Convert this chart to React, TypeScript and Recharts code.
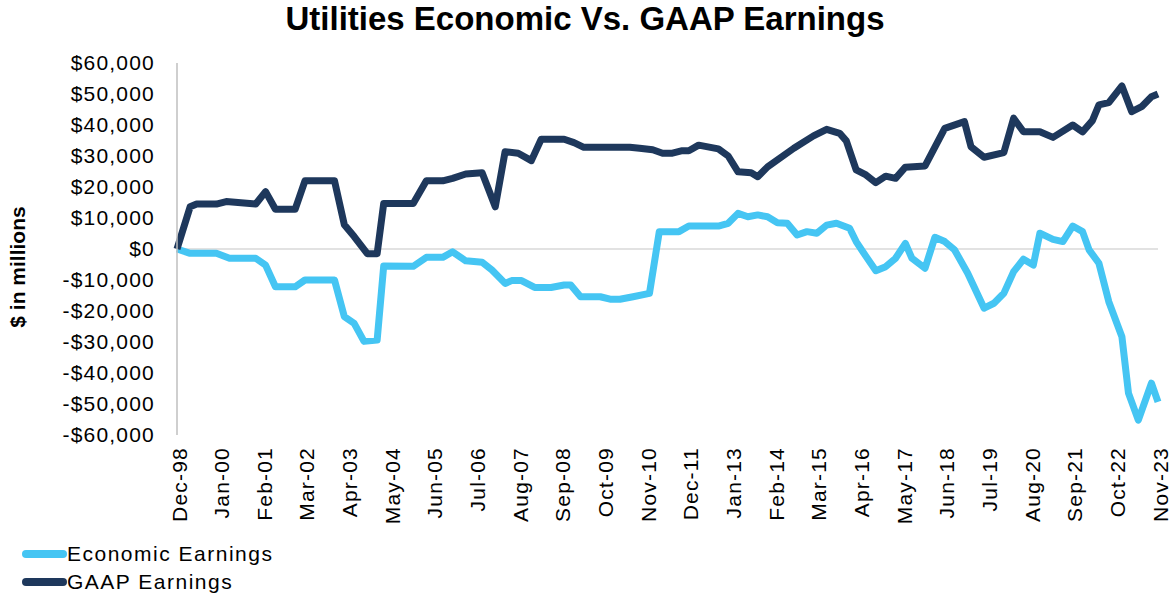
import { LineChart, Line, XAxis, YAxis, ReferenceLine } from "recharts";

// month index counted from Dec-98 (0) to Nov-23 (299)
const tickLabels = [
  "Dec-98", "Jan-00", "Feb-01", "Mar-02", "Apr-03", "May-04", "Jun-05", "Jul-06",
  "Aug-07", "Sep-08", "Oct-09", "Nov-10", "Dec-11", "Jan-13", "Feb-14", "Mar-15",
  "Apr-16", "May-17", "Jun-18", "Jul-19", "Aug-20", "Sep-21", "Oct-22", "Nov-23",
];
const tickMonths = tickLabels.map((_, i) => i * 13);

const yTicks = [-60000, -50000, -40000, -30000, -20000, -10000, 0, 10000, 20000, 30000, 40000, 50000, 60000];

const econMonths = [
  0, 4, 12, 16, 24, 27, 30, 36, 39, 48, 51, 54, 57, 61, 63, 72, 76, 81, 84, 88,
  93, 96, 100, 102, 105, 109, 114, 118, 120, 123, 129, 132, 135, 139, 144, 147, 153, 156, 165, 168,
  171, 174, 177, 180, 183, 186, 189, 192, 195, 198, 201, 205, 207, 210, 213, 216, 219, 222, 224, 228,
  231, 234, 237, 241, 246, 249, 252, 255, 258, 261, 263, 267, 270, 273, 276, 278, 281, 284, 288, 290,
  293, 297, 299,
];
const econValues = [
  0, -1400, -1400, -3000, -3000, -5200, -12200, -12200, -10000, -10000, -21800, -24000, -29800, -29400, -5500, -5600, -2700, -2700, -900, -3800,
  -4300, -6800, -11100, -10200, -10200, -12400, -12400, -11600, -11600, -15400, -15400, -16200, -16200, -15400, -14300, 5600, 5600, 7400, 7400, 8300,
  11500, 10400, 11000, 10400, 8500, 8300, 4500, 5600, 5100, 7700, 8300, 6700, 2400, -2400, -7000, -5700, -3000, 1800, -3000, -6200,
  3800, 2400, -300, -7800, -19100, -17500, -14300, -7300, -3300, -5200, 5100, 3100, 2400, 7400, 5600, -300, -4600, -17000, -28300, -46500,
  -55200, -43300, -49300,
];

const gaapMonths = [
  0, 4, 6, 12, 15, 24, 27, 30, 36, 39, 48, 51, 54, 58, 61, 63, 72, 76, 81, 84,
  88, 93, 97, 100, 104, 108, 111, 118, 121, 124, 138, 141, 145, 148, 151, 154, 156, 159, 165, 168,
  171, 175, 177, 180, 188, 194, 198, 202, 204, 207, 210, 213, 216, 219, 222, 228, 234, 240, 242, 246,
  252, 255, 258, 263, 267, 273, 276, 279, 281, 284, 288, 291, 294, 297, 299,
];
const gaapValues = [
  0, 13600, 14500, 14500, 15300, 14500, 18500, 12800, 12800, 22000, 22000, 7800, 4000, -1500, -1500, 14700, 14700, 22000, 22000, 22800,
  24200, 24600, 13600, 31400, 30900, 28500, 35400, 35400, 34300, 32800, 32800, 32500, 32000, 30900, 30900, 31700, 31700, 33500, 32300, 30000,
  24900, 24600, 23300, 26500, 32500, 36500, 38600, 37300, 34900, 25500, 23900, 21400, 23500, 22800, 26400, 26800, 38900, 41100, 33000, 29600,
  31100, 42200, 37800, 37800, 36000, 40000, 37800, 41400, 46500, 47200, 52600, 44300, 45900, 49100, 50000,
];

const econData = econMonths.map((m, i) => ({ month: m, value: econValues[i] }));
const gaapData = gaapMonths.map((m, i) => ({ month: m, value: gaapValues[i] }));

const LIGHT = "#45C5F3";
const DARK = "#1E385C";
const FONT = "'Liberation Sans', Arial, sans-serif";

const fmtDollar = (v: number) =>
  (v < 0 ? "-$" : "$") + Math.abs(v).toLocaleString("en-US");

const XTick = (props: any) => {
  const { x, y, payload } = props;
  const idx = tickMonths.indexOf(payload.value);
  return (
    <text
      transform={`translate(${x + 2},${y + 4}) rotate(-90)`}
      textAnchor="end"
      dominantBaseline="central"
      fontSize={21}
      fontFamily={FONT}
      letterSpacing={1.2}
      fill="#000"
    >
      {tickLabels[idx]}
    </text>
  );
};

export default function App() {
  return (
    <div style={{ position: "absolute", left: 0, top: 0, width: 1170, height: 598, background: "#fff", fontFamily: FONT }}>
      <div
        style={{
          position: "absolute",
          top: 0,
          left: 0,
          width: 1170,
          textAlign: "center",
          fontSize: 33,
          fontWeight: "bold",
          color: "#000",
        }}
      >
        Utilities Economic Vs. GAAP Earnings
      </div>
      <LineChart
        width={1170}
        height={598}
        margin={{ top: 63, right: 12, bottom: 63, left: 0 }}
      >
        <XAxis
          dataKey="month"
          type="number"
          domain={[0, 299]}
          ticks={tickMonths}
          interval={0}
          axisLine={false}
          tickLine={false}
          height={100}
          tick={<XTick />}
        />
        <YAxis
          dataKey="value"
          type="number"
          domain={[-60000, 60000]}
          ticks={yTicks}
          interval={0}
          width={177}
          axisLine={{ stroke: "#bfbfbf", strokeWidth: 1.5 }}
          tickLine={false}
          tickFormatter={fmtDollar}
          tick={{ fontSize: 21, fill: "#000", fontFamily: FONT, letterSpacing: 1.2 }}
          tickMargin={16}
          label={{
            content: () => (
              <text
                x={17}
                y={267}
                transform="rotate(-90 17 267)"
                textAnchor="middle"
                dominantBaseline="central"
                fontSize={21}
                fontWeight="bold"
                fontFamily={FONT}
                fill="#000"
              >
                $ in millions
              </text>
            ),
          }}
        />
        <ReferenceLine y={0} stroke="#d9d9d9" strokeWidth={1.5} />
        <Line
          data={econData}
          dataKey="value"
          name="Economic Earnings"
          stroke={LIGHT}
          strokeWidth={7}
          dot={false}
          strokeLinejoin="round"
          isAnimationActive={false}
        />
        <Line
          data={gaapData}
          dataKey="value"
          name="GAAP Earnings"
          stroke={DARK}
          strokeWidth={7}
          dot={false}
          strokeLinejoin="round"
          isAnimationActive={false}
        />
      </LineChart>
      {[
        { label: "Economic Earnings", color: LIGHT, top: 541 },
        { label: "GAAP Earnings", color: DARK, top: 569 },
      ].map((item) => (
        <div
          key={item.label}
          style={{ position: "absolute", left: 22, top: item.top, display: "flex", alignItems: "center", height: 26 }}
        >
          <div style={{ width: 45, height: 8, borderRadius: 4, background: item.color }} />
          <span style={{ fontSize: 21, letterSpacing: 1.5, color: "#000" }}>{item.label}</span>
        </div>
      ))}
    </div>
  );
}
